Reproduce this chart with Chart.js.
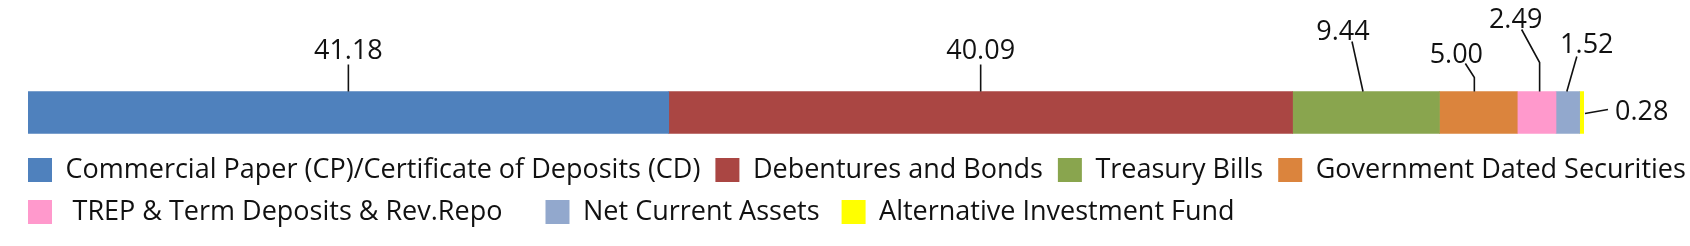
<!DOCTYPE html>
<html>
<head>
<meta charset="utf-8">
<script src="https://cdn.jsdelivr.net/npm/chart.js"></script>
<style>
  html, body { margin: 0; padding: 0; background: #fff; }
  #wrap { width: 1690px; height: 246px; }
</style>
</head>
<body>
<div id="wrap"><canvas id="myChart"></canvas></div>
<script>
// trailing spaces push the 2nd legend row apart like in the source
const categories = [
  'Commercial Paper (CP)/Certificate of Deposits (CD)',
  'Debentures and Bonds',
  'Treasury Bills',
  'Government Dated Securities',
  ' TREP & Term Deposits & Rev.Repo    ',
  'Net Current Assets ',
  'Alternative Investment Fund'
];
const values = [41.18, 40.09, 9.44, 5.00, 2.49, 1.52, 0.28];
const colors = ['#4f81bd', '#aa4643', '#89a54e', '#db843d', '#ff99cc', '#92a8cd', '#ffff00'];

// leader line points and text spot, relative to the top middle of each segment
// (last one hangs off the right end of the bar)
const leaders = [
  { line: [[0, 0], [0, -27]], text: [0, -33], align: 'center' },
  { line: [[0, 0], [0, -27]], text: [0, -33], align: 'center' },
  { line: [[-3, 0], [-14, -50]], text: [-23, -52], align: 'center' },
  { line: [[-4, 0], [-4, -14], [-13, -28]], text: [-22, -29], align: 'center' },
  { line: [[3, 0], [3, -29], [-15, -62]], text: [-21, -64], align: 'center' },
  { line: [[-1, 0], [9, -35]], text: [19, -39], align: 'center' },
  { fromEnd: true, line: [[1, 1], [24, -3]], text: [31, 7], align: 'left' }
];

const FONT = "'Open Sans', sans-serif";

const leaderLabels = {
  id: 'leaderLabels',
  afterDatasetsDraw(chart) {
    const ctx = chart.ctx;
    ctx.save();
    ctx.strokeStyle = '#111';
    ctx.lineWidth = 1.6;
    ctx.fillStyle = '#111';
    ctx.font = '27px ' + FONT;
    ctx.textBaseline = 'alphabetic';
    chart.data.datasets.forEach((ds, i) => {
      const bar = chart.getDatasetMeta(i).data[0];
      const spec = leaders[i];
      let ax, ay;
      if (spec.fromEnd) {
        ax = bar.x; ay = bar.y;
      } else {
        ax = (bar.x + bar.base) / 2; ay = bar.y - bar.height / 2;
      }
      ctx.beginPath();
      spec.line.forEach(([dx, dy], k) => {
        if (k === 0) ctx.moveTo(ax + dx, ay + dy);
        else ctx.lineTo(ax + dx, ay + dy);
      });
      ctx.stroke();
      ctx.textAlign = spec.align;
      ctx.fillText(ds.data[0].toFixed(2), ax + spec.text[0], ay + spec.text[1]);
    });
    ctx.restore();
  }
};

const ctx = document.getElementById('myChart');

new Chart(ctx, {
  type: 'bar',
  data: {
    labels: [''],
    datasets: categories.map((name, i) => ({
      label: name,
      data: [values[i]],
      backgroundColor: colors[i],
      borderWidth: 0
    }))
  },
  options: {
    indexAxis: 'y',
    responsive: true,
    maintainAspectRatio: false,
    animation: false,
    datasets: { bar: { barThickness: 42 } },
    layout: { padding: { top: 83.5, bottom: 10.5, left: 13, right: -16 } },
    scales: {
      x: { stacked: true, min: 0, max: 100, display: false },
      y: {
        stacked: true,
        grid: { display: false },
        ticks: { display: false },
        border: { display: false },
        afterFit: s => { s.width = 15; }
      },
      yRight: {
        type: 'category',
        position: 'right',
        grid: { display: false },
        ticks: { display: false },
        border: { display: false },
        afterFit: s => { s.width = 122; }
      }
    },
    plugins: {
      tooltip: { enabled: false },
      legend: {
        position: 'bottom',
        align: 'start',
        maxHeight: 120,
        labels: {
          boxWidth: 24,
          boxHeight: 24,
          padding: 15,
          color: '#111',
          font: { family: FONT, size: 27 }
        }
      }
    }
  },
  plugins: [leaderLabels]
});
</script>
</body>
</html>
